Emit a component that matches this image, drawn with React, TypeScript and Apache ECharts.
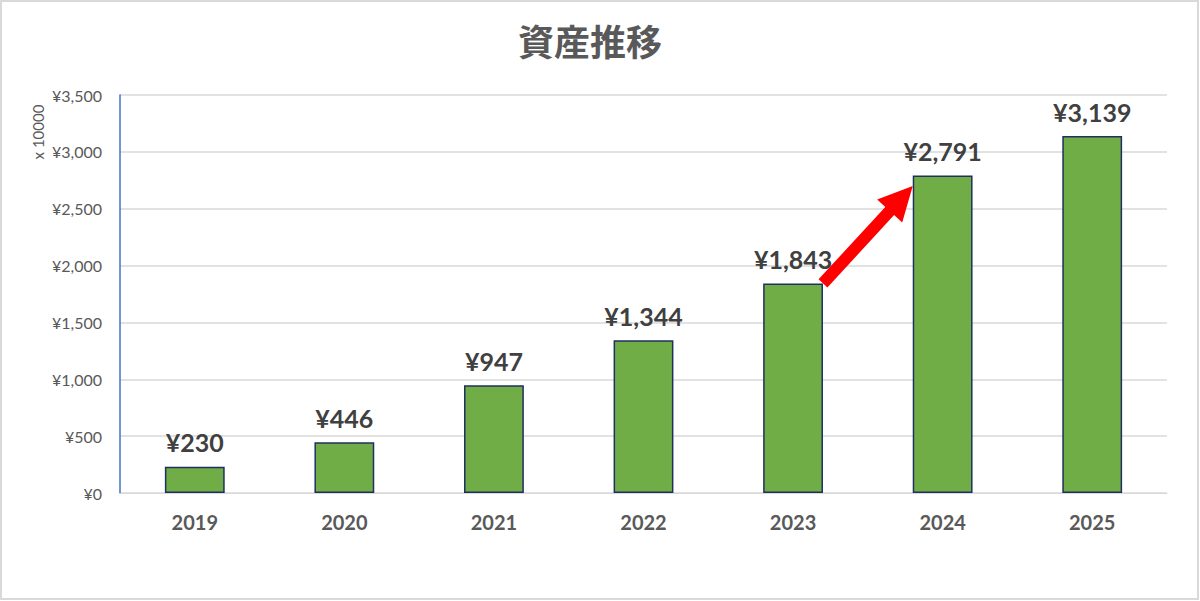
import React, { useEffect, useRef } from "react";
import * as echarts from "echarts";

const years = ["2019", "2020", "2021", "2022", "2023", "2024", "2025"];
const assets = [230, 446, 947, 1344, 1843, 2791, 3139];
const arrowFrom = [4, 1843];
const arrowTo = [5, 2700];
const title = "資産推移";
const unitName = "x 10000";

const fmt = (v: number) => "¥" + v.toLocaleString("en-US");

export default function App() {
  const ref = useRef<HTMLDivElement>(null);
  useEffect(() => {
    document.body.style.margin = "0";
    const chart = echarts.init(ref.current!, null, { renderer: "svg" });
    const grey = "#595959";
    chart.setOption({
      animation: false,
      backgroundColor: "#ffffff",
      textStyle: { fontFamily: "Lato, 'Noto Sans', sans-serif" },
      grid: { left: 120, right: 33, top: 95, bottom: 108 },
      graphic: [
        {
          type: "rect",
          shape: { x: 1, y: 1, width: 1197, height: 598 },
          style: { fill: "none", stroke: "#d9d9d9", lineWidth: 2 },
          silent: true,
        },
        {
          type: "text",
          x: 590,
          y: 40,
          style: {
            text: title,
            fill: grey,
            fontSize: 36,
            fontWeight: "bold",
            fontFamily: "'Noto Sans CJK JP'",
            textAlign: "center",
            textVerticalAlign: "middle",
          },
        },
        {
          type: "text",
          x: 38,
          y: 132,
          rotation: Math.PI / 2,
          style: {
            text: unitName,
            fill: grey,
            fontSize: 15,
            fontFamily: "Lato, 'Noto Sans'",
            textAlign: "center",
            textVerticalAlign: "middle",
          },
        },
      ],
      xAxis: {
        type: "category",
        data: years,
        axisLine: { lineStyle: { color: "#d9d9d9", width: 1 } },
        axisTick: { show: false },
        axisLabel: { color: grey, fontSize: 20, fontWeight: "bold", margin: 19 },
      },
      yAxis: {
        type: "value",
        min: 0,
        max: 3500,
        interval: 500,
        axisLine: { show: true, lineStyle: { color: "#4472C4", width: 1.5 } },
        axisTick: { show: false },
        splitLine: { lineStyle: { color: "#d9d9d9", width: 1.5 } },
        axisLabel: {
          color: grey,
          fontSize: 16,
          margin: 18,
          formatter: (v: number) => fmt(v),
        },
      },
      series: [
        {
          type: "bar",
          data: assets,
          barWidth: "40%",
          itemStyle: { color: "#70AD47", borderColor: "#1F2F60", borderWidth: 1.5 },
          label: {
            show: true,
            position: "top",
            distance: 12,
            color: "#404040",
            fontSize: 25,
            fontWeight: "bold",
            formatter: (p: any) => fmt(p.value),
          },
        },
        {
          type: "custom",
          z: 10,
          clip: false,
          encode: { x: [0, 2], y: [1, 3] },
          data: [[arrowFrom[0], arrowFrom[1], arrowTo[0], arrowTo[1]]],
          renderItem: (params: any, api: any) => {
            const half = api.size([1, 0])[0] * 0.2;
            const a = api.coord([api.value(0), api.value(1)]);
            const b = api.coord([api.value(2), api.value(3)]);
            const sx = a[0] + half, sy = a[1];
            const tx = b[0] - half, ty = b[1];
            const dx = tx - sx, dy = ty - sy;
            const len = Math.sqrt(dx * dx + dy * dy);
            const ux = dx / len, uy = dy / len;
            const nx = -uy, ny = ux;
            const sw = 6, hw = 17, hl = 34;
            const bx = tx - ux * hl, by = ty - uy * hl;
            const pts = [
              [sx + nx * sw, sy + ny * sw],
              [bx + nx * sw, by + ny * sw],
              [bx + nx * hw, by + ny * hw],
              [tx, ty],
              [bx - nx * hw, by - ny * hw],
              [bx - nx * sw, by - ny * sw],
              [sx - nx * sw, sy - ny * sw],
            ];
            return {
              type: "polygon",
              shape: { points: pts },
              style: { fill: "#FF0000", stroke: "none" },
            };
          },
        },
      ],
    });
    return () => chart.dispose();
  }, []);
  return <div ref={ref} style={{ width: 1200, height: 601 }} />;
}
